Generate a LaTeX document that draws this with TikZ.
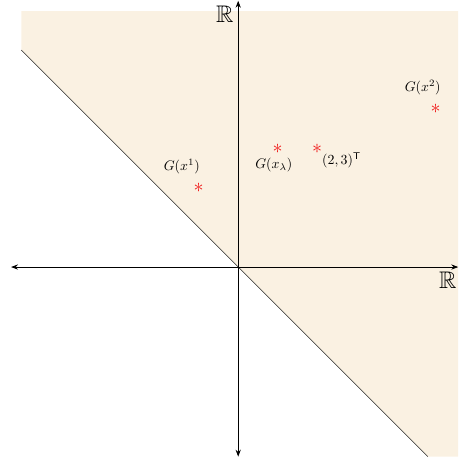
\documentclass[tikz,border=0pt]{standalone}
\usepackage{amsmath,amssymb}
\usepackage{xcolor}
\usetikzlibrary{arrows.meta,positioning}
\definecolor{halfbeige}{RGB}{250,241,226}
\definecolor{ptred}{RGB}{240,25,25}

\begin{document}
\begin{tikzpicture}[
    x=1cm, y=1cm,
    node distance=0.15cm,
    axis/.style={{Stealth[length=5pt]}-{Stealth[length=5pt]}, semithick},
    pt/.style={inner sep=0pt, font=\Large, text=ptred},
    lbl/.style={inner sep=1pt},
    rlbl/.style={inner sep=1pt, font=\LARGE},
]
    \useasboundingbox (-6.03,-4.91) rectangle (5.57,6.76);

    % Half space above the line
    \fill[halfbeige] (-5.49,5.49) -- (-5.49,6.48) -- (5.57,6.48)
        -- (5.57,-4.8) -- (4.8,-4.8) -- cycle;
    \coordinate (lineA) at (-5.49,5.49);
    \coordinate (lineB) at (4.8,-4.8);
    \draw[black!85] (lineA) -- (lineB);

    % Axes
    \coordinate (xl) at (-5.75,0);
    \coordinate (xr) at (5.57,0);
    \coordinate (yb) at (0,-4.8);
    \coordinate (yt) at (0,6.74);
    \draw[axis] (xl) -- (xr);
    \draw[axis] (yb) -- (yt);
    \node[rlbl, anchor=north east, yshift=-0.08cm] (rx) at (xr) {$\mathbb{R}$};
    \node[rlbl, anchor=north east, xshift=-0.08cm, yshift=-0.08cm] (ry) at (yt) {$\mathbb{R}$};

    % Points
    \node[pt] (g1) at (-1,2) {$\ast$};
    \node[pt] (glam) at (1,3) {$\ast$};
    \node[pt] (p23) at (2,3) {$\ast$};
    \node[pt] (g2) at (5,4) {$\ast$};

    \node[lbl, above left=0.18cm and -0.2cm of g1] (g1l) {$G(x^1)$};
    \node[lbl, below=0.08cm of glam, xshift=-0.1cm] (glaml) {$G(x_\lambda)$};
    \node[lbl, below right=-0.05cm and -0.05cm of p23] (p23l) {$(2,3)^\mathsf{T}$};
    \node[lbl, above left=0.18cm and -0.3cm of g2] (g2l) {$G(x^2)$};
\end{tikzpicture}
\end{document}
